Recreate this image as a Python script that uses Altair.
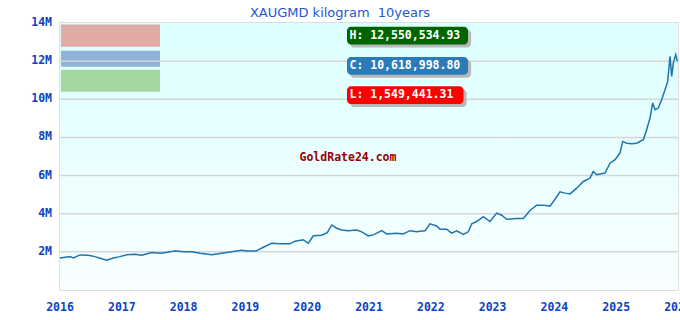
import altair as alt
import pandas as pd

# ---- data ----
years = [2016.000, 2016.162, 2016.215, 2016.324, 2016.458, 2016.566, 2016.675, 2016.756, 2016.862, 2016.971,
         2017.079, 2017.214, 2017.322, 2017.484, 2017.646, 2017.780, 2017.861, 2017.995, 2018.131, 2018.265,
         2018.455, 2018.617, 2018.778, 2018.940, 2019.021, 2019.172, 2019.290, 2019.426, 2019.560, 2019.722,
         2019.803, 2019.937, 2020.018, 2020.099, 2020.235, 2020.325, 2020.396, 2020.477, 2020.558, 2020.665,
         2020.801, 2020.882, 2020.989, 2021.070, 2021.206, 2021.286, 2021.448, 2021.555, 2021.663, 2021.772,
         2021.825, 2021.906, 2021.987, 2022.095, 2022.149, 2022.257, 2022.338, 2022.419, 2022.526, 2022.607,
         2022.662, 2022.743, 2022.850, 2022.958, 2023.066, 2023.147, 2023.228, 2023.390, 2023.497, 2023.605,
         2023.714, 2023.821, 2023.929, 2024.010, 2024.091, 2024.172, 2024.252, 2024.361, 2024.468, 2024.576,
         2024.629, 2024.684, 2024.819, 2024.900, 2024.981, 2025.061, 2025.105, 2025.169, 2025.251, 2025.332,
         2025.439, 2025.493, 2025.547, 2025.591, 2025.628, 2025.681, 2025.736, 2025.790, 2025.833, 2025.871,
         2025.898, 2025.924, 2025.963, 2025.989]
prices_m = [1.68, 1.75, 1.68, 1.84, 1.82, 1.75, 1.64, 1.56, 1.68, 1.75,
            1.85, 1.87, 1.82, 1.96, 1.93, 2.00, 2.06, 2.00, 2.00, 1.93,
            1.85, 1.93, 2.01, 2.08, 2.05, 2.04, 2.24, 2.45, 2.43, 2.42,
            2.56, 2.63, 2.45, 2.84, 2.87, 3.01, 3.41, 3.24, 3.15, 3.11,
            3.15, 3.05, 2.84, 2.89, 3.11, 2.94, 2.98, 2.94, 3.11, 3.05,
            3.08, 3.11, 3.47, 3.36, 3.19, 3.19, 2.98, 3.10, 2.91, 3.05,
            3.47, 3.59, 3.85, 3.59, 4.03, 3.92, 3.71, 3.75, 3.75, 4.17,
            4.45, 4.45, 4.40, 4.76, 5.15, 5.08, 5.04, 5.34, 5.69, 5.87,
            6.21, 6.04, 6.13, 6.65, 6.83, 7.18, 7.79, 7.70, 7.67, 7.70,
            7.88, 8.40, 9.02, 9.81, 9.45, 9.54, 9.98, 10.50, 10.94, 12.25,
            11.20, 11.90, 12.34, 11.99]

title_text = "XAUGMD kilogram\u00a0 10years"
y_ticks = [2000000, 4000000, 6000000, 8000000, 10000000, 12000000, 14000000]
y_tick_labels = ["2M", "4M", "6M", "8M", "10M", "12M", "14M"]
x_ticks = list(range(2016, 2027))
x_tick_labels = [str(y) for y in x_ticks]

stat_labels = ["H: 12,550,534.93", "C: 10,618,998.80", "L: 1,549,441.31"]
stat_colors = ["#006400", "#2b7bb9", "#ff0000"]
watermark = "GoldRate24.com"

legend_colors = ["#dea69f", "#8aaed7", "#9fd59a"]

# ---- tables ----
df = pd.DataFrame({"year": years, "price": [p * 1e6 for p in prices_m]})

bg = pd.DataFrame({"x": [2016], "x2": [2026], "y": [0], "y2": [14e6]})

yt = pd.DataFrame({"v": y_ticks, "lab": y_tick_labels, "x": [2016] * len(y_ticks)})
xt = pd.DataFrame({"v": x_ticks, "lab": x_tick_labels, "y": [0] * len(x_ticks)})

leg = pd.DataFrame({
    "x": [2016.016] * 3, "x2": [2017.618] * 3,
    "y": [13.92e6, 12.55e6, 11.55e6], "y2": [12.76e6, 11.71e6, 10.40e6],
    "c": legend_colors,
})

boxes = pd.DataFrame({
    "label": stat_labels,
    "c": stat_colors,
    "x": [2020.644] * 3,
    "x2": [2022.602, 2022.602, 2022.529],
    "y": [13.80e6, 12.22e6, 10.68e6],
    "y2": [12.87e6, 11.29e6, 9.75e6],
    "ty": [13.34e6, 11.75e6, 10.22e6],
    "tx": [2020.684] * 3,
})
boxes["sx"] = boxes["x"] + 0.05
boxes["sx2"] = boxes["x2"] + 0.05
boxes["sy"] = boxes["y"] - 0.16e6
boxes["sy2"] = boxes["y2"] - 0.16e6

wm = pd.DataFrame({"x": [2020.66], "y": [6.93e6], "t": [watermark]})

xs = alt.Scale(domain=[2016, 2026], nice=False, zero=False)
ys = alt.Scale(domain=[0, 14e6], nice=False)

label_font = "DejaVu Sans Mono"
label_color = "#0a42c8"

background = alt.Chart(bg).mark_rect(
    color=alt.Gradient(
        gradient="linear",
        stops=[alt.GradientStop(color="#dcffff", offset=0),
               alt.GradientStop(color="#f8ffff", offset=1)],
        x1=0, x2=0, y1=0, y2=1,
    )
).encode(
    x=alt.X("x:Q", scale=xs, axis=None), x2="x2:Q",
    y=alt.Y("y:Q", scale=ys, axis=None), y2="y2:Q",
)

# tick labels drawn through the scales
y_labels = alt.Chart(yt).mark_text(
    align="right", baseline="middle", dx=-8, font=label_font, fontWeight="bold",
    fontSize=11.5, color=label_color
).encode(
    x=alt.X("x:Q", scale=xs, axis=None),
    y=alt.Y("v:Q", scale=ys, axis=None),
    text="lab:N",
)

x_labels = alt.Chart(xt).mark_text(
    align="center", baseline="middle", dy=18, font=label_font, fontWeight="bold",
    fontSize=11.5, color=label_color
).encode(
    x=alt.X("v:Q", scale=xs, axis=None),
    y=alt.Y("y:Q", scale=ys, axis=None),
    text="lab:N",
)

grid_rules = alt.Chart(yt[yt["v"] < 14e6]).mark_rule(
    color="#d6d6d6", strokeWidth=1.5
).encode(y=alt.Y("v:Q", scale=ys, axis=None))

legend_rects = alt.Chart(leg).mark_rect(opacity=0.95).encode(
    x=alt.X("x:Q", scale=xs, axis=None), x2="x2:Q",
    y=alt.Y("y:Q", scale=ys, axis=None), y2="y2:Q",
    color=alt.Color("c:N", scale=None),
)

line = alt.Chart(df).mark_line(color="#1f74b0", strokeWidth=1.5).encode(
    x=alt.X("year:Q", scale=xs, axis=None),
    y=alt.Y("price:Q", scale=ys, axis=None),
)

shadows = alt.Chart(boxes).mark_rect(cornerRadius=4, color="#b8b8b8").encode(
    x=alt.X("sx:Q", scale=xs, axis=None), x2="sx2:Q",
    y=alt.Y("sy:Q", scale=ys, axis=None), y2="sy2:Q",
)

stat_rects = alt.Chart(boxes).mark_rect(cornerRadius=4).encode(
    x=alt.X("x:Q", scale=xs, axis=None), x2="x2:Q",
    y=alt.Y("y:Q", scale=ys, axis=None), y2="y2:Q",
    color=alt.Color("c:N", scale=None),
)

stat_text = alt.Chart(boxes).mark_text(
    align="left", baseline="middle", font=label_font, fontWeight="bold", fontSize=11.5, color="white"
).encode(
    x=alt.X("tx:Q", scale=xs, axis=None),
    y=alt.Y("ty:Q", scale=ys, axis=None),
    text="label:N",
)

wm_text = alt.Chart(wm).mark_text(
    align="center", baseline="middle", font=label_font, fontWeight="bold", fontSize=11.5, color="#990000"
).encode(
    x=alt.X("x:Q", scale=xs, axis=None),
    y=alt.Y("y:Q", scale=ys, axis=None),
    text="t:N",
)

chart = alt.layer(
    background, legend_rects, grid_rules, line, shadows, stat_rects, stat_text, wm_text,
    y_labels, x_labels
).properties(
    width=618,
    height=267,
    title=alt.TitleParams(title_text, font="DejaVu Sans", fontSize=13, fontWeight="normal",
                          color="#2457d6", anchor="middle", dx=-29, offset=-3),
    autosize=alt.AutoSizeParams(type="none"),
    padding={"left": 60, "top": 23, "right": 2, "bottom": 30},
    background="white",
).configure_view(
    stroke="#d2d2d2", strokeWidth=1.5, clip=False
)

chart.save("out.html", embed_options={"renderer": "svg", "actions": False})
